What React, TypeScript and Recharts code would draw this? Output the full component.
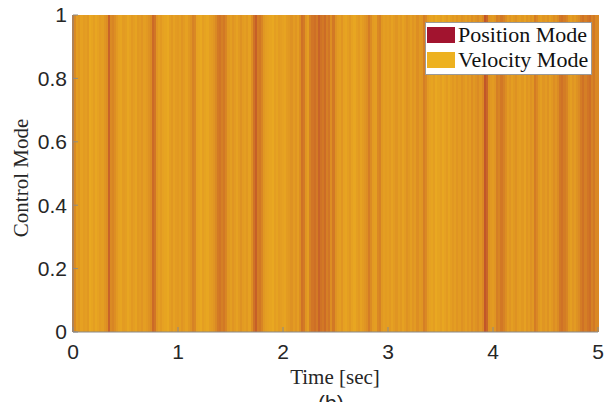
import { BarChart, Bar, XAxis, YAxis, Cell, Label } from "recharts";

// share of "position mode" samples per 0.02 s bin (in %), one array per second
const sec0 = [35, 25, 12, 15, 10, 14, 12, 16, 6, 8, 12, 7, 10, 14, 12, 18, 22, 50, 25, 28, 22, 15, 10, 8, 14, 12, 7, 10, 15, 12, 9, 16, 14, 18, 12, 15, 20, 24, 45, 38, 18, 12, 15, 10, 8, 6, 12, 16, 10, 14];
const sec1 = [15, 12, 18, 14, 10, 16, 20, 30, 26, 10, 8, 6, 12, 9, 7, 12, 14, 18, 25, 35, 38, 32, 36, 28, 16, 12, 18, 14, 10, 15, 20, 14, 12, 16, 10, 22, 40, 52, 34, 36, 28, 16, 12, 10, 8, 6, 12, 9, 14, 12];
const sec2 = [10, 8, 14, 16, 20, 14, 18, 12, 22, 40, 35, 18, 12, 30, 38, 42, 35, 50, 40, 36, 44, 32, 38, 22, 36, 20, 14, 12, 18, 10, 8, 12, 16, 10, 7, 12, 15, 10, 14, 18, 22, 34, 24, 14, 12, 26, 30, 16, 12, 14];
const sec3 = [12, 15, 10, 14, 18, 12, 16, 10, 14, 20, 16, 12, 18, 14, 22, 16, 18, 32, 26, 14, 10, 8, 12, 6, 9, 12, 7, 10, 14, 8, 12, 16, 12, 18, 14, 20, 16, 12, 18, 14, 22, 16, 20, 24, 18, 26, 58, 48, 20, 16];
const sec4 = [14, 18, 32, 28, 36, 30, 22, 14, 18, 12, 16, 20, 14, 12, 16, 10, 18, 14, 20, 16, 34, 26, 16, 12, 18, 14, 20, 12, 16, 22, 18, 24, 36, 40, 34, 28, 16, 12, 18, 14, 20, 24, 34, 40, 32, 38, 42, 30, 36, 26];

const xTicks = [0, 1, 2, 3, 4, 5];
const yTicks = [0, 0.2, 0.4, 0.6, 0.8, 1];
const binWidth = 0.02;

const POSITION = [162, 20, 47]; // #A2142F
const VELOCITY = [237, 177, 32]; // #EDB120

const blend = (share: number) => {
  const f = share / 100;
  const c = VELOCITY.map((v, i) => Math.round(v * (1 - f) + POSITION[i] * f));
  return `rgb(${c[0]},${c[1]},${c[2]})`;
};

const shares = [...sec0, ...sec1, ...sec2, ...sec3, ...sec4];
const data = shares.map((p, i) => ({ t: (i + 0.5) * binWidth, mode: 1, p }));

const axisColor = "#8a8a8a";
const textColor = "#262626";
const tickFont = { fontFamily: "Liberation Sans, Arial, sans-serif", fontSize: 21, fill: textColor };
const serif = "Liberation Serif, Times New Roman, serif";

// bars are drawn a bit wider than their slot so no white seams show between them
const StripeShape = (props: any) => {
  const { x, y, width, height, fill } = props;
  return <rect x={x - 1} y={y} width={width + 2.5} height={height} fill={fill} shapeRendering="crispEdges" />;
};

function ModeLegend() {
  const items = [
    { name: "Position Mode", color: "#A2142F" },
    { name: "Velocity Mode", color: "#EDB120" },
  ];
  return (
    <div
      style={{
        position: "absolute",
        left: 425,
        top: 22,
        width: 165,
        height: 51,
        background: "#fff",
        border: "1px solid #9a9a9a",
      }}
    >
      {items.map((it, i) => (
        <div key={it.name} style={{ position: "absolute", left: 1, top: 4 + i * 25, display: "flex", alignItems: "center" }}>
          <div style={{ width: 28, height: 16, background: it.color }} />
          <span style={{ marginLeft: 3, fontFamily: serif, fontSize: 22, lineHeight: "16px", color: "#111", whiteSpace: "nowrap" }}>
            {it.name}
          </span>
        </div>
      ))}
    </div>
  );
}

export default function App() {
  return (
    <div style={{ position: "absolute", left: 0, top: 0, width: 613, height: 402, background: "#fff", overflow: "hidden" }}>
      <BarChart width={613} height={402} data={data} margin={{ top: 15, right: 15, bottom: 0, left: 0 }} barCategoryGap={0}>
        <XAxis
          xAxisId="time"
          dataKey="t"
          type="number"
          domain={[0, 5]}
          ticks={xTicks}
          height={70}
          stroke={axisColor}
          tickSize={-5}
          tickMargin={17}
          tick={tickFont}
        >
          <Label
            content={() => (
              <text x={335} y={384} textAnchor="middle" fontFamily={serif} fontSize={21} fill={textColor}>
                Time [sec]
              </text>
            )}
          />
        </XAxis>
        <XAxis
          xAxisId="top"
          dataKey="t"
          orientation="top"
          type="number"
          domain={[0, 5]}
          ticks={xTicks}
          height={0}
          stroke={axisColor}
          tickSize={-5}
          tick={false}
        />
        <YAxis
          yAxisId="left"
          type="number"
          domain={[0, 1]}
          ticks={yTicks}
          width={73}
          stroke={axisColor}
          tickSize={-5}
          tickMargin={11}
          tick={tickFont}
          tickFormatter={(v: number) => String(v)}
        >
          <Label
            content={() => (
              <text
                x={23}
                y={178}
                textAnchor="middle"
                dominantBaseline="middle"
                transform="rotate(-90 23 178)"
                fontFamily={serif}
                fontSize={21}
                fill={textColor}
              >
                Control Mode
              </text>
            )}
          />
        </YAxis>
        <YAxis
          yAxisId="right"
          orientation="right"
          type="number"
          domain={[0, 1]}
          ticks={yTicks}
          width={0}
          stroke={axisColor}
          tickSize={-5}
          tick={false}
        />
        <Bar xAxisId="time" yAxisId="left" dataKey="mode" isAnimationActive={false} shape={StripeShape}>
          {data.map((d, i) => (
            <Cell key={i} fill={blend(d.p)} />
          ))}
        </Bar>
      </BarChart>
      <ModeLegend />
      <div
        style={{
          position: "absolute",
          left: 318,
          top: 391,
          fontFamily: "Liberation Sans, Arial, sans-serif",
          fontSize: 21,
          lineHeight: "24px",
          color: textColor,
        }}
      >
        (b)
      </div>
    </div>
  );
}
